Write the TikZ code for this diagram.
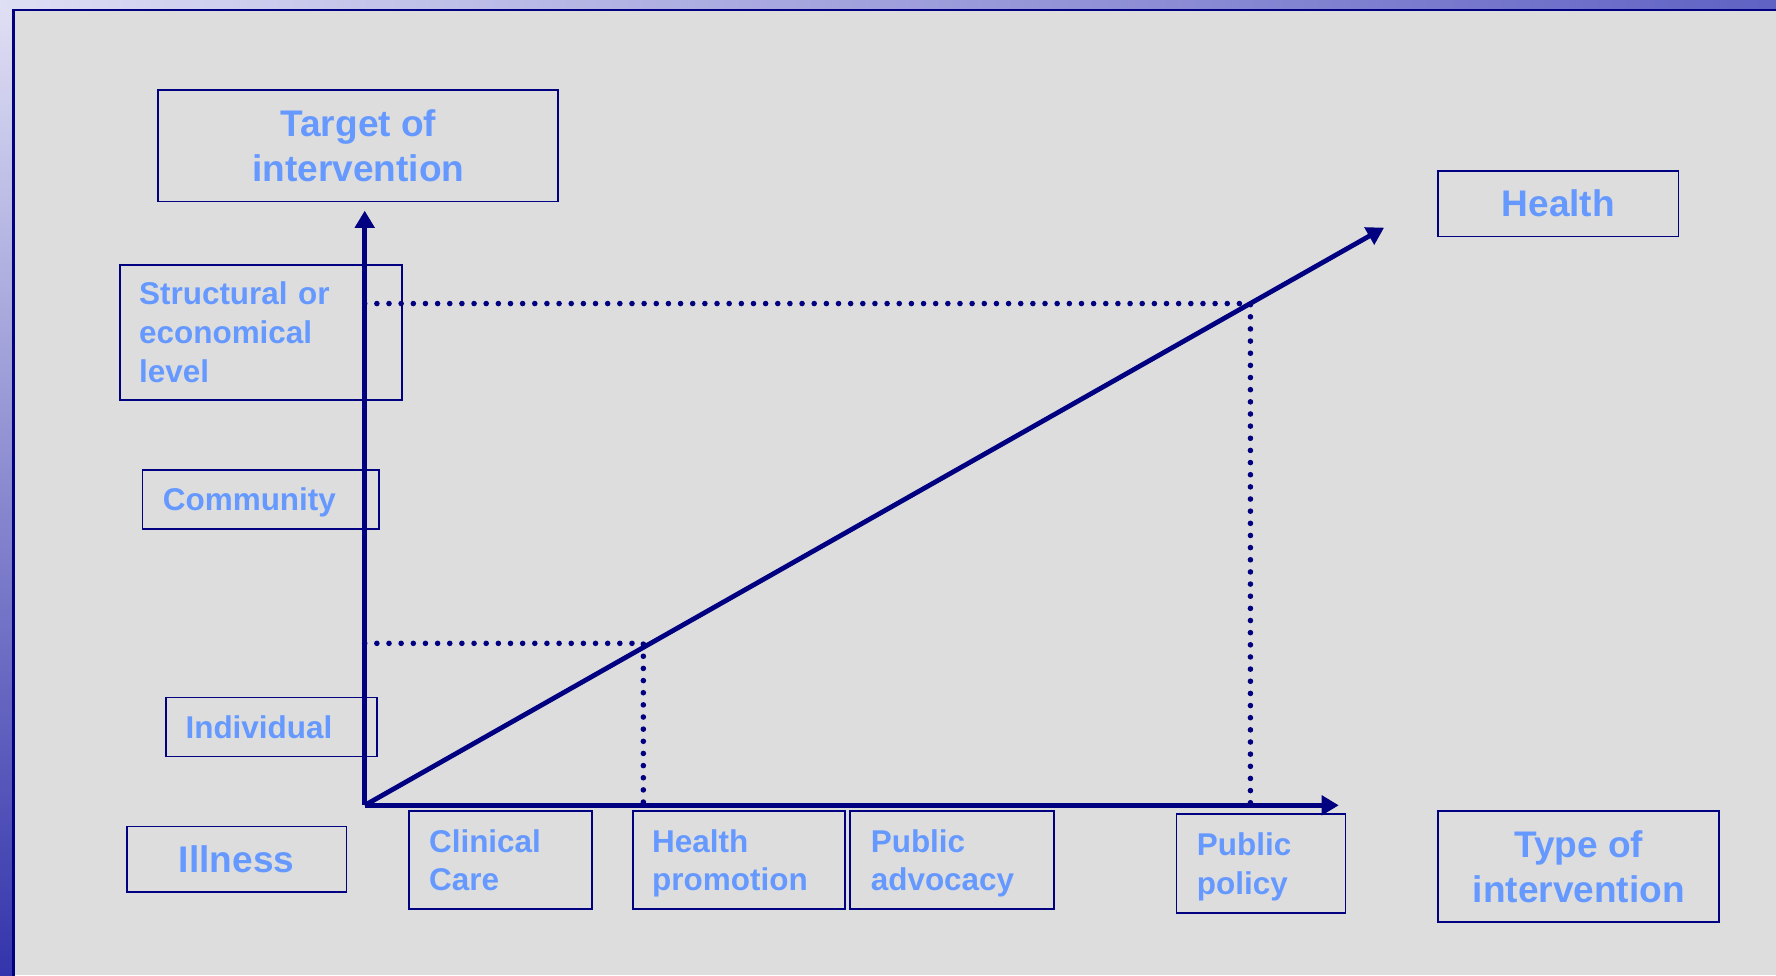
\documentclass[tikz,border=0pt]{standalone}
\usepackage{fontspec}
\setmainfont{Liberation Sans}
\usetikzlibrary{arrows.meta}
\definecolor{navy}{RGB}{0,0,128}
\definecolor{lblue}{RGB}{102,153,255}
\definecolor{slidegray}{RGB}{221,221,221}
\definecolor{stripA}{RGB}{222,222,244}
\definecolor{stripB}{RGB}{96,98,196}
\definecolor{stripM}{RGB}{150,154,222}
\definecolor{stripC}{RGB}{52,52,172}
\tikzset{>={Triangle[length=4.3pt,width=4.8pt]}}
\tikzset{
  lblbox/.style={draw=navy, line width=0.45pt, text=lblue, anchor=north west,
    inner sep=0pt, align=left, font=\fontsize{7.9}{9.7}\selectfont\bfseries},
  oneline/.style={text depth=0pt},
  twoline/.style={text depth=9.7pt},
  titlebox/.style={lblbox, align=center, font=\fontsize{9.3}{11.3}\selectfont\bfseries},
  axis/.style={navy, line width=1.3pt, ->},
  guide/.style={navy, line width=1.4pt, line cap=round, dash pattern=on 0pt off 3.05pt},
}

\begin{document}
\begin{tikzpicture}[x=0.01cm, y=-0.01cm]
    \useasboundingbox (0,0) rectangle (1568,861);
    \fill[slidegray] (0,0) rectangle (1568,861);
    \shade[left color=stripA, right color=stripB] (0,0) rectangle (1568,9);
    \shade[top color=stripA, middle color=stripM, bottom color=stripC] (0,9) rectangle (12,861);
    \draw[navy, line width=0.6pt] (12,9) rectangle (1590,880);

    \node[titlebox, minimum width=3.53cm, minimum height=0.98cm] (target) at (139,79) {Target of\\intervention};
    \node[titlebox, minimum width=2.12cm, minimum height=0.58cm] (health) at (1269,150) {Health};
    \node[titlebox, minimum width=1.94cm, minimum height=0.58cm] (illness) at (111,729) {Illness};
    \node[titlebox, minimum width=2.48cm, minimum height=0.98cm] (type) at (1269,715) {Type of\\intervention};

    \node[lblbox, minimum width=2.49cm, minimum height=1.19cm, text width=2.15cm] (struct) at (105,233) {Structural or\\economical\\level};
    \node[lblbox, oneline, minimum width=2.09cm, minimum height=0.52cm, text width=1.73cm] (community) at (125,414) {Community};
    \node[lblbox, oneline, minimum width=1.86cm, minimum height=0.52cm, text width=1.52cm] (individual) at (146,615) {Individual};

    \node[lblbox, twoline, minimum width=1.62cm, minimum height=0.87cm, text width=1.26cm] (clinical) at (360,715) {Clinical\\Care};
    \node[lblbox, twoline, minimum width=1.87cm, minimum height=0.87cm, text width=1.53cm] (promotion) at (558,715) {Health\\promotion};
    \node[lblbox, twoline, minimum width=1.80cm, minimum height=0.87cm, text width=1.44cm] (advocacy) at (750,715) {Public\\advocacy};
    \node[lblbox, twoline, minimum width=1.49cm, minimum height=0.87cm, text width=1.13cm] (policy) at (1038,718) {Public\\policy};

    \coordinate (O) at (322,711);
    \coordinate (ytip) at (322,186);
    \coordinate (xtip) at (1182,711);
    \coordinate (htip) at (1222,201);
    \coordinate (hp) at (568,568);
    \coordinate (pp) at (1104,268);

    \draw[guide] (O |- hp) -- (hp) -- (hp |- O);
    \draw[guide] (O |- pp) -- (pp) -- (pp |- O);

    \draw[axis] (O) -- (ytip);
    \draw[axis] (O) -- (xtip);
    \draw[axis, line width=1.2pt] (O) -- (htip);
\end{tikzpicture}
\end{document}
